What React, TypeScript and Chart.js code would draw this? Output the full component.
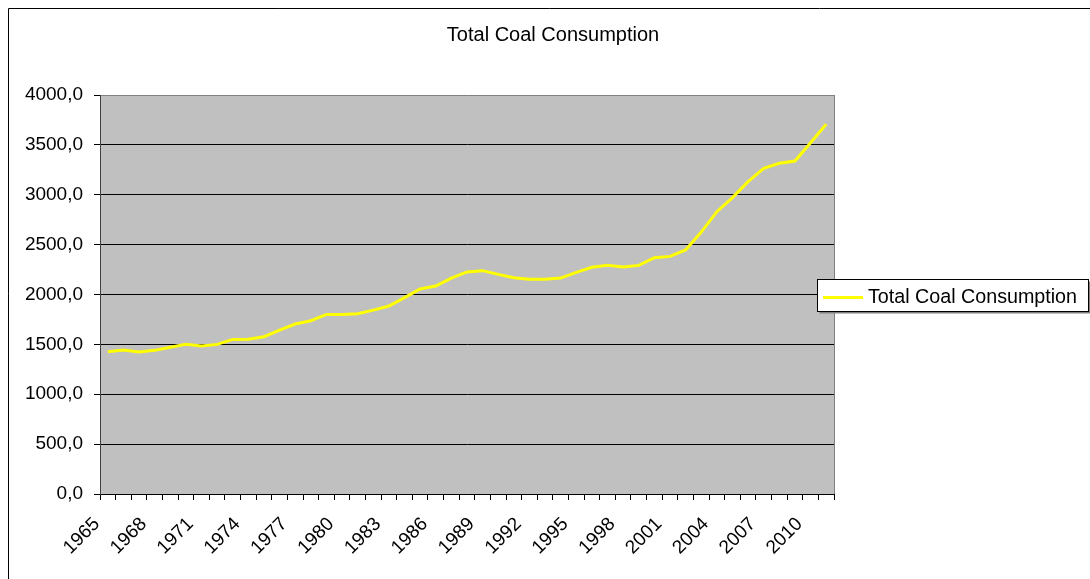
import React, { useEffect, useRef } from "react";
import { Chart, registerables } from "chart.js";

Chart.register(...registerables);

const chartTitle = "Total Coal Consumption";
const seriesLabel = "Total Coal Consumption";

const years: string[] = [
  "1965", "1966", "1967", "1968", "1969", "1970", "1971", "1972", "1973", "1974",
  "1975", "1976", "1977", "1978", "1979", "1980", "1981", "1982", "1983", "1984",
  "1985", "1986", "1987", "1988", "1989", "1990", "1991", "1992", "1993", "1994",
  "1995", "1996", "1997", "1998", "1999", "2000", "2001", "2002", "2003", "2004",
  "2005", "2006", "2007", "2008", "2009", "2010", "2011",
];

const consumption: number[] = [
  1426, 1444, 1423, 1440, 1472, 1500, 1484, 1500, 1550, 1551,
  1577, 1642, 1704, 1737, 1800, 1799, 1808, 1843, 1885, 1968,
  2055, 2085, 2165, 2226, 2239, 2202, 2169, 2152, 2152, 2165,
  2222, 2273, 2292, 2276, 2292, 2369, 2382, 2446, 2626, 2830,
  2971, 3131, 3265, 3315, 3338, 3522, 3706,
];

const yTicks: number[] = [0, 500, 1000, 1500, 2000, 2500, 3000, 3500, 4000];

const FONT = '"Liberation Sans", Arial, sans-serif';

const framePlugin = {
  id: "excelFrame",
  beforeDraw(chart: any) {
    const { ctx, chartArea } = chart;
    ctx.save();
    ctx.fillStyle = "#C0C0C0";
    ctx.fillRect(chartArea.left, chartArea.top, chartArea.right - chartArea.left, chartArea.bottom - chartArea.top);
    ctx.restore();
  },
  afterDraw(chart: any) {
    const { ctx, chartArea } = chart;
    ctx.save();
    // right plot border
    ctx.strokeStyle = "#808080";
    ctx.lineWidth = 1;
    ctx.beginPath();
    ctx.moveTo(Math.round(chartArea.right) + 0.5, chartArea.top);
    ctx.lineTo(Math.round(chartArea.right) + 0.5, chartArea.bottom);
    ctx.stroke();

    // outer frame (left & top)
    ctx.strokeStyle = "#000";
    ctx.beginPath();
    ctx.moveTo(0.5, chart.height);
    ctx.lineTo(0.5, 0.5);
    ctx.lineTo(chart.width, 0.5);
    ctx.stroke();

    // title
    ctx.fillStyle = "#000";
    ctx.font = `20px ${FONT}`;
    ctx.textAlign = "center";
    ctx.textBaseline = "alphabetic";
    ctx.fillText(chartTitle, 545, 33);

    // legend
    const lx = 809.5, ly = 271.5, lw = 271, lh = 32;
    ctx.fillStyle = "#808080";
    ctx.fillRect(lx + 2, ly + 2, lw, lh);
    ctx.fillStyle = "#fff";
    ctx.fillRect(lx, ly, lw, lh);
    ctx.strokeStyle = "#000";
    ctx.lineWidth = 1;
    ctx.strokeRect(lx, ly, lw, lh);
    ctx.strokeStyle = "#FFFF00";
    ctx.lineWidth = 3;
    ctx.beginPath();
    ctx.moveTo(815, 289.5);
    ctx.lineTo(855, 289.5);
    ctx.stroke();
    ctx.fillStyle = "#000";
    ctx.font = `19.7px ${FONT}`;
    ctx.textAlign = "left";
    ctx.textBaseline = "alphabetic";
    ctx.fillText(seriesLabel, 860, 295);
    ctx.restore();
  },
};

export default function App() {
  const ref = useRef<HTMLCanvasElement | null>(null);

  useEffect(() => {
    if (!ref.current) return;
    const chart = new Chart(ref.current, {
      type: "line",
      data: {
        labels: years,
        datasets: [
          {
            label: seriesLabel,
            data: consumption,
            borderColor: "#FFFF00",
            backgroundColor: "#FFFF00",
            borderWidth: 3,
            pointRadius: 0,
            tension: 0,
          },
        ],
      },
      options: {
        animation: false,
        responsive: false,
        devicePixelRatio: 1,
        layout: { padding: { left: 0, right: 256, top: 87, bottom: 0 } },
        plugins: {
          legend: { display: false },
          title: { display: false },
          tooltip: { enabled: false },
        },
        scales: {
          x: {
            type: "category",
            offset: true,
            grid: {
              offset: true,
              drawOnChartArea: false,
              drawTicks: true,
              tickLength: 6,
              tickColor: "#000",
            },
            border: { color: "#000", width: 1 },
            ticks: {
              autoSkip: false,
              minRotation: 45,
              maxRotation: 45,
              padding: 13,
              labelOffset: -11,
              color: "#000",
              font: { family: FONT, size: 19 },
              callback: (_v: any, i: number) => (i % 3 === 0 ? years[i] : ""),
            },
            afterFit: (s: any) => {
              s.height = 85;
            },
          },
          y: {
            min: 0,
            max: 4000,
            afterBuildTicks: (s: any) => {
              s.ticks = yTicks.map((v) => ({ value: v }));
            },
            grid: {
              color: (c: any) => (c.tick && c.tick.value === 4000 ? "#808080" : "#000"),
              tickColor: "#000",
              tickLength: 6,
              drawTicks: true,
            },
            border: { color: "#404040", width: 1 },
            ticks: {
              padding: 11,
              color: "#000",
              font: { family: FONT, size: 19 },
              callback: (v: any) => Number(v).toFixed(1).replace(".", ","),
            },
            afterFit: (s: any) => {
              s.width = 92;
            },
          },
        },
      },
      plugins: [framePlugin],
    });
    return () => chart.destroy();
  }, []);

  return (
    <div style={{ position: "fixed", left: 8, top: 8, width: 1082, height: 571 }}>
      <canvas ref={ref} width={1082} height={571} style={{ width: 1082, height: 571, display: "block" }} />
    </div>
  );
}
